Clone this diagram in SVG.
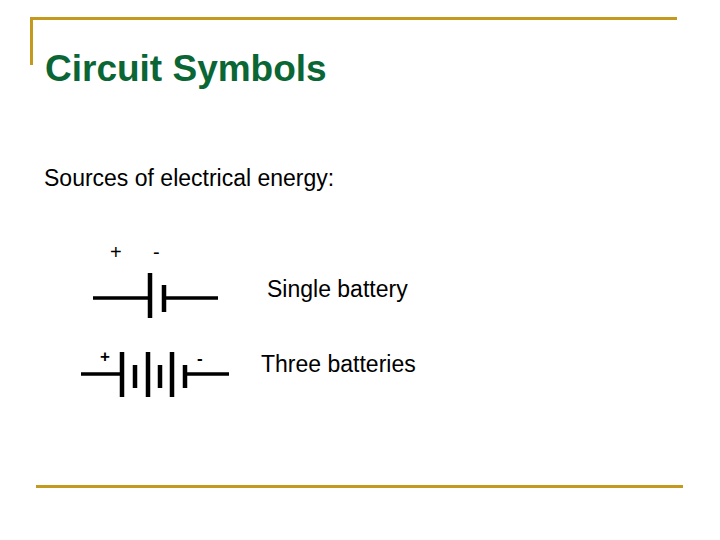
<svg xmlns="http://www.w3.org/2000/svg" width="720" height="540" viewBox="0 0 720 540">
<style>
.g{stroke:#C49A1E;stroke-width:3;fill:none}
.w{stroke:#000;stroke-width:3.5;fill:none}
.p{stroke:#000;stroke-width:4.5;fill:none}
.t{font-family:"Liberation Sans",Arial,sans-serif;fill:#000}
</style>
<rect width="720" height="540" fill="#fff"/>
<g id="frame">
<path class="g" d="M30 18.5H677M31.5 18V65M36 486.5H683"/>
</g>
<text class="t" x="45" y="81" font-size="37" font-weight="bold" fill="#0A6634" style="fill:#0A6634">Circuit Symbols</text>
<text class="t" x="44" y="186" font-size="23">Sources of electrical energy:</text>
<g id="single">
<path class="w" d="M93 298H148M165 298H218"/>
<path class="p" d="M150 273V318M164 285V312"/>
<text class="t" x="110" y="259" font-size="20">+</text>
<text class="t" x="153" y="259" font-size="20">-</text>
<text class="t" x="267" y="297" font-size="23">Single battery</text>
</g>
<g id="three">
<path class="w" d="M81 374H121M186 374H229"/>
<path class="p" d="M122 352V397M148 352V397M172 352V397M135 365V388M160 365V388M185 365V388"/>
<text class="t" x="100" y="362" font-size="17" font-weight="bold">+</text>
<text class="t" x="197" y="364" font-size="17" font-weight="bold">-</text>
<text class="t" x="261" y="372" font-size="23">Three batteries</text>
</g>
</svg>
